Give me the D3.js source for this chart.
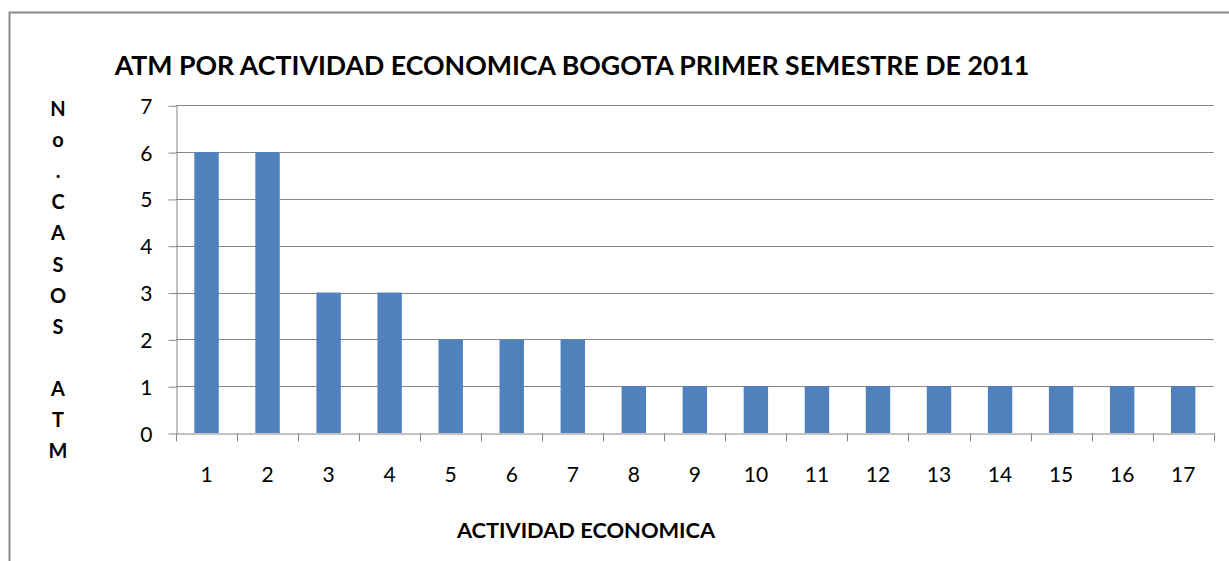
<!DOCTYPE html>
<html>
<head>
<meta charset="utf-8">
<script src="https://cdn.jsdelivr.net/npm/d3@7"></script>
<style>
  body { margin: 0; background: #fff; }
  svg text { font-family: Lato, "Open Sans", sans-serif; fill: #000; }
</style>
</head>
<body>
<svg width="1229" height="561"></svg>
<script>
// data
var categories = ["1","2","3","4","5","6","7","8","9","10","11","12","13","14","15","16","17"];
var casos = [6, 6, 3, 3, 2, 2, 2, 1, 1, 1, 1, 1, 1, 1, 1, 1, 1];
var yTicks = [0, 1, 2, 3, 4, 5, 6, 7];
var titulo = "ATM POR ACTIVIDAD ECONOMICA BOGOTA PRIMER SEMESTRE DE 2011";
var yTitulo = ["N", "o", ".", "C", "A", "S", "O", "S", "", "A", "T", "M"];
var xTitulo = "ACTIVIDAD ECONOMICA";

var svg = d3.select("svg");
var gridColor = "#868686",
    barColor = "#4F81BD";

// frame (right and bottom edges fall outside the picture)
svg.append("rect")
  .attr("x", 9.5).attr("y", 12.5)
  .attr("width", 1300).attr("height", 700)
  .attr("fill", "none")
  .attr("stroke", "#8a8a8a")
  .attr("stroke-width", 2);

var plotLeft = 176, plotRight = 1213.7, plotTop = 105.3, plotBottom = 433;

var x = d3.scaleBand().domain(categories).range([plotLeft, plotRight]).padding(0);
var xBar = d3.scaleBand().domain(categories).range([plotLeft, plotRight])
  .paddingInner(0.6).paddingOuter(0.3);
var y = d3.scaleLinear().domain([0, 7]).range([plotBottom, plotTop]);

// gridlines
svg.append("g")
  .selectAll("line")
  .data(yTicks.filter(function(d) { return d > 0; }))
  .enter().append("line")
  .attr("x1", plotLeft).attr("x2", plotRight)
  .attr("y1", function(d) { return Math.round(y(d)) + 0.5; })
  .attr("y2", function(d) { return Math.round(y(d)) + 0.5; })
  .attr("stroke", gridColor)
  .attr("stroke-width", 1);

// bars
svg.append("g")
  .selectAll("rect")
  .data(casos)
  .enter().append("rect")
  .attr("x", function(d, i) { return xBar(categories[i]); })
  .attr("width", xBar.bandwidth())
  .attr("y", function(d) { return y(d); })
  .attr("height", function(d) { return y(0) - y(d); })
  .attr("fill", barColor);

// y axis
var yAxis = svg.append("g")
  .attr("transform", "translate(" + (plotLeft + 0.5) + ",0.5)")
  .call(d3.axisLeft(y).tickValues(yTicks).tickFormat(d3.format("d"))
    .tickSize(8).tickSizeOuter(0).tickPadding(16));
yAxis.selectAll("path, line").attr("stroke", gridColor);
yAxis.selectAll("text")
  .style("font-size", "21px")
  .attr("dy", "0.36em");

// x axis line + ticks at category boundaries
var xAxis = svg.append("g")
  .attr("transform", "translate(0," + (Math.round(plotBottom) + 0.5) + ")")
  .call(d3.axisBottom(x).tickSize(0).tickSizeOuter(0).tickPadding(34));
xAxis.select("path").attr("stroke", gridColor);
xAxis.selectAll("text").style("font-size", "21px");

var bounds = categories.map(function(c) { return x(c); }).concat([plotRight]);
svg.append("g")
  .selectAll("line")
  .data(bounds)
  .enter().append("line")
  .attr("x1", function(d) { return Math.round(d) + 0.5; })
  .attr("x2", function(d) { return Math.round(d) + 0.5; })
  .attr("y1", Math.round(plotBottom) + 0.5)
  .attr("y2", Math.round(plotBottom) + 8.5)
  .attr("stroke", gridColor);

// titles
svg.append("text")
  .attr("x", 572).attr("y", 75)
  .attr("text-anchor", "middle")
  .style("font-size", "26.7px")
  .style("font-weight", "bold")
  .text(titulo);

svg.append("text")
  .attr("x", 586).attr("y", 538)
  .attr("text-anchor", "middle")
  .style("font-size", "21.8px")
  .style("font-weight", "bold")
  .text(xTitulo);

svg.append("g")
  .selectAll("text")
  .data(yTitulo)
  .enter().append("text")
  .attr("x", 58)
  .attr("y", function(d, i) { return 116 + i * 31.1; })
  .attr("text-anchor", "middle")
  .style("font-size", "20px")
  .style("font-weight", "bold")
  .text(function(d) { return d; });
</script>
</body>
</html>
